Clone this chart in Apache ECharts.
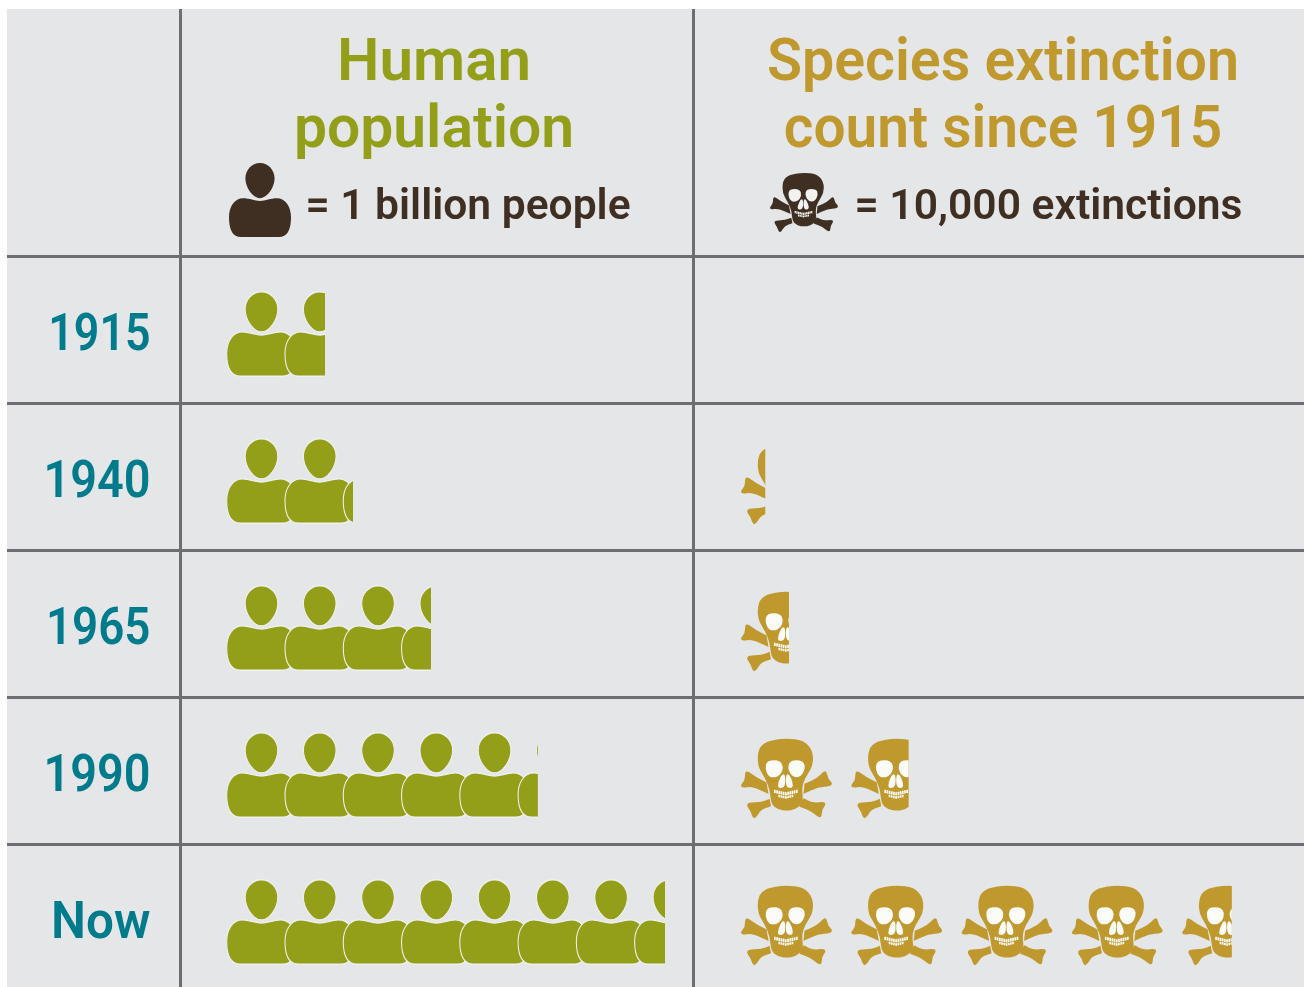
<!DOCTYPE html>
<html>
<head>
<meta charset="utf-8">
<style>html,body{margin:0;padding:0;background:#fff;overflow:hidden}#main{width:1307px;height:1000px}</style>
<script src="https://cdn.jsdelivr.net/npm/echarts@6/dist/echarts.min.js"></script>
</head>
<body>
<div id="main"></div>
<script>
var years = ['1915', '1940', '1965', '1990', 'Now'];
var population = [1.67, 2.15, 3.48, 5.3, 7.47];       // billion people
var extinctions = [0, 2200, 4350, 15200, 44500];      // count since 1915

var OLIVE = '#939e19', GOLD = '#bf982e', BROWN = '#3f2f23', TEAL = '#007b8c';
var PANEL = '#e5e6e8', RULE = '#6d6e71', FONT = 'Roboto';

// person glyph, box 66 x 82
var personPath = 'M33 42C27 42 22 39 15 39C6 39 0 48 0 60C0 74 4 82 13 82L53 82C62 82 66 74 66 60C66 48 60 39 51 39C44 39 39 42 33 42Z' +
  'M33 0C42 0 48.5 8 48.5 17C48.5 28 40 39 33 39C26 39 17.5 28 17.5 17C17.5 8 24 0 33 0Z';

// rounded closed outline through the midpoints of a polygon, a doubled point stays sharp
function smooth(p) {
  var n = p.length, mid = function (a, b) { return ((a[0] + b[0]) / 2).toFixed(1) + ' ' + ((a[1] + b[1]) / 2).toFixed(1); };
  var d = 'M' + mid(p[n - 1], p[0]);
  for (var i = 0; i < n; i++) d += 'Q' + p[i][0] + ' ' + p[i][1] + ' ' + mid(p[i], p[(i + 1) % n]);
  return d + 'Z';
}
function box(w, h) { return 'M0 0L0 0M' + w + ' ' + h + 'L' + w + ' ' + h; }
var SKULL_W = 91, SKULL_H = 79.3;

var skullPath = box(SKULL_W, SKULL_H) + smooth([[44, -1], [63, 1], [72, 12], [72, 27], [64, 39], [60.7, 49], [62.5, 64], [54, 71], [45.7, 72], [37, 71], [30, 65], [29, 51], [24, 39], [16.5, 27], [17, 10], [25, 2]]) +
  smooth([[25.5, 43.5], [25.5, 43.5], [14, 37.5], [7, 32], [4, 33], [4, 41], [-0.5, 46], [1, 49], [11, 47.5], [27.5, 55], [27.5, 55]]) +
  smooth([[63.5, 44.5], [63.5, 44.5], [76.3, 39.3], [83, 32], [85.5, 32.5], [87.3, 40], [91.5, 44], [89.5, 47.5], [77.3, 48.3], [62.5, 55], [62.5, 55]]) +
  smooth([[28.5, 60], [28.5, 60], [20.7, 63.3], [7.5, 63.5], [5.5, 67], [9.7, 72.7], [12, 80], [15.7, 78.5], [19.7, 71], [30, 67.5], [30, 67.5]]) +
  smooth([[62.5, 59.5], [62.5, 59.5], [72.3, 64.3], [82.5, 62.5], [85, 65.5], [81, 71], [80.5, 79], [76.3, 78], [70.7, 72.7], [58.5, 68], [58.5, 68]]);

// eyes, nose and teeth, same box as the skull so both scale alike
var skullHoles = box(SKULL_W, SKULL_H) +
  smooth([[26, 21.5], [40, 21.5], [42.5, 31], [36.5, 38.5], [28, 38.5], [24, 30]]) +
  smooth([[49, 21.5], [62, 21.5], [64.5, 29], [60, 38], [52, 38.5], [46.5, 30]]) +
  smooth([[41, 35], [44.3, 35.5], [44.3, 48.5], [37, 49.5], [37, 44]]) +
  smooth([[44.9, 35.5], [48, 35], [52, 44], [51.5, 49.5], [44.9, 48.5]]);
(function () {
  for (var i = 0; i < 11; i++) {
    var x = 33 + i * 2.2, dip = 3 - Math.abs(i - 5) * 0.5;
    skullHoles += 'M' + x + ' ' + (50.5 + dip) + 'h1.7v3.2h-1.7z';
    if (i > 1 && i < 9) skullHoles += 'M' + x + ' ' + (54.4 + dip) + 'h1.7v2.4h-1.7z';
  }
})();

// table geometry
var ROW_TOP = 257, ROW_H = 147, PERSON_PITCH = 58.65, SKULL_PITCH = 110.3;
var yearScale = [0.86, 0.9, 0.88, 0.9, 0.95];

function rule(x1, y1, x2, y2) {
  return { type: 'line', z: -1, shape: { x1: x1, y1: y1, x2: x2, y2: y2 }, style: { stroke: RULE, lineWidth: 3 } };
}
function label(text, x, y, size, color, sx, align) {
  return { type: 'text', x: x, y: y, scaleX: sx || 1, style: { text: text, fill: color, fontFamily: FONT, fontWeight: 600, fontSize: size, align: align || 'center', verticalAlign: 'middle' } };
}

var graphics = [
  { type: 'rect', z: -2, shape: { x: 7, y: 9, width: 1297, height: 978 }, style: { fill: PANEL } },
  rule(180.5, 9, 180.5, 987), rule(693.5, 9, 693.5, 987)
];
years.forEach(function (year, r) {
  graphics.push(rule(7, ROW_TOP + r * ROW_H - 0.5, 1304, ROW_TOP + r * ROW_H - 0.5));
  graphics.push(label(year, 150.5, ROW_TOP + (r + 0.5) * ROW_H + 6, 52, TEAL, yearScale[r], 'right'));
});
graphics.push(
  label('Human', 434, 65, 60, OLIVE),
  label('population', 434, 132, 60, OLIVE, 0.98),
  label('Species extinction', 1003, 65, 60, GOLD, 0.956),
  label('count since 1915', 1003, 132, 60, GOLD, 0.947),
  label('= 1 billion people', 468, 208, 43, BROWN, 0.99),
  label('= 10,000 extinctions', 1048.5, 208, 43, BROWN, 0.99)
);

function pictorial(axis, values, path, size, times, bound, color, offset, extra) {
  return Object.assign({
    type: 'pictorialBar', xAxisIndex: axis, yAxisIndex: axis, data: values,
    symbol: 'path://' + path, symbolSize: size, symbolRepeat: times,
    symbolBoundingData: bound, symbolClip: true, symbolOffset: offset,
    barGap: '-100%', barWidth: '100%', silent: true, itemStyle: { color: color }
  }, extra || {});
}
var skullBound = (4 * SKULL_PITCH + SKULL_W) / SKULL_PITCH * 10000;
var PERSON_W = 69.5, PERSON_H = 84.5;
var personBound = (7 * (PERSON_PITCH + 0.4) + PERSON_W) / PERSON_PITCH;

var chart = echarts.init(document.getElementById('main'), null, { renderer: 'canvas' });
chart.setOption({
  animation: false,
  graphic: graphics,
  grid: [
    { left: 227, top: ROW_TOP, width: 9 * PERSON_PITCH, height: ROW_H * years.length },
    { left: 741, top: ROW_TOP, width: 5 * SKULL_PITCH, height: ROW_H * years.length },
    // the two keys in the header
    { left: 229, top: 163, width: 62, height: 74 },
    { left: 770, top: 173, width: 68, height: 59 }
  ],
  xAxis: [
    { type: 'value', gridIndex: 0, min: 0, max: 9, show: false },
    { type: 'value', gridIndex: 1, min: 0, max: 50000, show: false },
    { type: 'value', gridIndex: 2, min: 0, max: 1, show: false },
    { type: 'value', gridIndex: 3, min: 0, max: 1, show: false }
  ],
  yAxis: [
    { type: 'category', gridIndex: 0, data: years, inverse: true, show: false },
    { type: 'category', gridIndex: 1, data: years, inverse: true, show: false },
    { type: 'category', gridIndex: 2, data: ['key'], show: false },
    { type: 'category', gridIndex: 3, data: ['key'], show: false }
  ],
  series: [
    pictorial(0, population, personPath, [PERSON_W, PERSON_H], 8, personBound, OLIVE, [-3, 3.5],
      { itemStyle: { color: OLIVE, borderColor: '#f0f1ef', borderWidth: 6 } }),
    pictorial(1, extinctions, skullPath, [SKULL_W, SKULL_H], 5, skullBound, GOLD, [0, 7]),
    pictorial(1, extinctions, skullHoles, [SKULL_W, SKULL_H], 5, skullBound, '#fbfbf8', [0, 7]),
    pictorial(2, [1], personPath, [62, 74], 1, 1, BROWN, [0, 0]),
    pictorial(3, [1], skullPath, [68, 59], 1, 1, BROWN, [0, 0]),
    pictorial(3, [1], skullHoles, [68, 59], 1, 1, '#f2f2f2', [0, 0])
  ]
});
</script>
</body>
</html>
